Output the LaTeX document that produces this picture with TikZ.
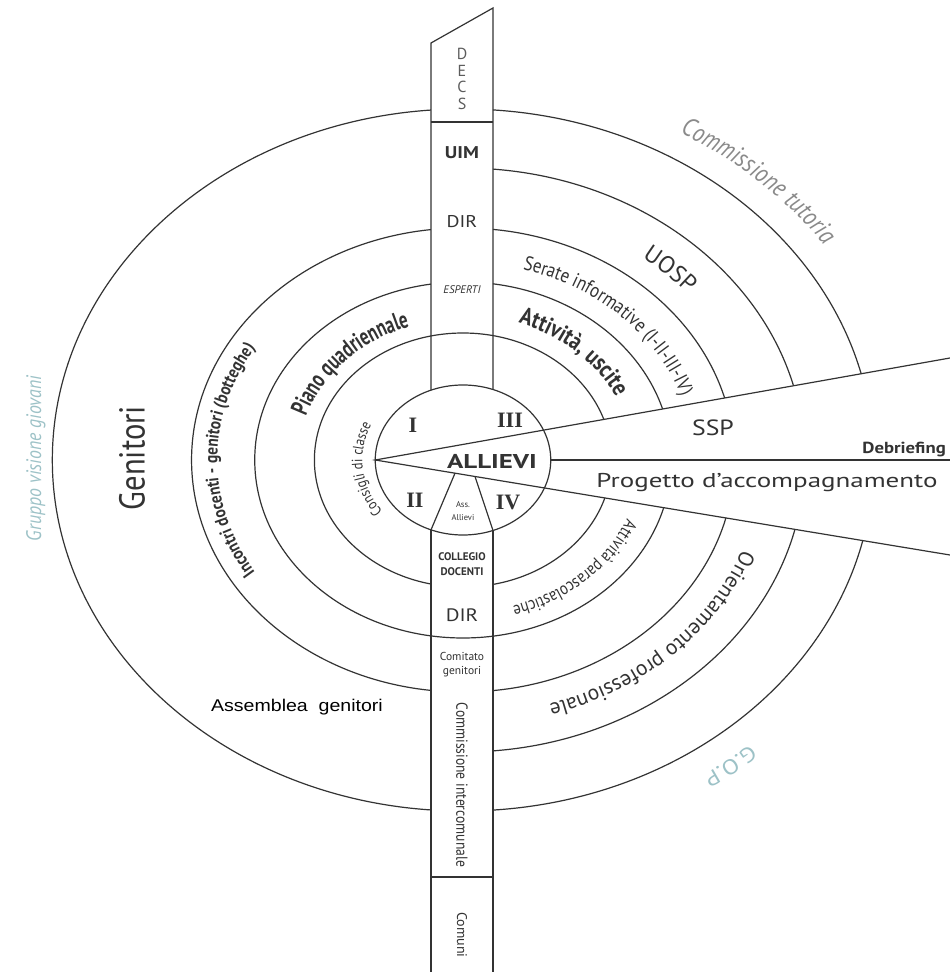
\documentclass[tikz,border=0pt]{standalone}
\usepackage{fontspec}
\setmainfont{PT Sans}
\newfontfamily\cnd[FakeStretch=0.85]{PT Sans}
\newfontfamily\xcnd[FakeStretch=0.7]{PT Sans}
\newfontfamily\wid[FakeStretch=1.17]{PT Sans}
\newfontfamily\xwid[FakeStretch=1.35]{PT Sans}
\newfontfamily\serf{Liberation Serif}
\newfontfamily\arialw[FakeStretch=1.15]{Liberation Sans}
\usetikzlibrary{decorations.text}
\definecolor{ink}{HTML}{333333}
\definecolor{grayt}{HTML}{8A8A8A}
\definecolor{paleblue}{HTML}{9DC2C7}
\newcommand\fsz[1]{\fontsize{#1}{#1}\selectfont}
\newcommand\arctext[5]{\path[decorate,decoration={text along path,text align=center,text={|#4|#5}}] ({1.17*#1*cos(#2)},{#1*sin(#2)}) arc[start angle=#2,end angle=#3,x radius={1.17*#1},y radius=#1];}
\begin{document}
\begin{tikzpicture}[x=1pt,y=1pt,
  ring/.style={draw=ink,line width=1.2pt},
  lbl/.style={text=ink,inner sep=0pt},
]
\useasboundingbox[fill=white] (-463,-512) rectangle (487,460);
% key coordinates
\coordinate (C) at (0,0);
\coordinate (apex) at (-87.75,0);
\coordinate (wU) at (487,102);
\coordinate (wL) at (487,-95);
\coordinate (cR) at (87.75,0);
\coordinate (dR) at (487,0);
\coordinate (sTL) at (-32,417);
\coordinate (sTR) at (30,452);
\coordinate (sUL) at (-32,69.9);
\coordinate (sUR) at (30,70.5);
\coordinate (sLL) at (-32,-69.9);
\coordinate (sLR) at (30,-70.5);
\coordinate (sBL) at (-32,-512);
\coordinate (sBR) at (30,-512);
\coordinate (dL1) at (-32,338);
\coordinate (dR1) at (30,338);
\coordinate (dL2) at (-32,-417);
\coordinate (dR2) at (30,-417);
\coordinate (tA) at (-8,-13.2);
\coordinate (tB) at (12,-16.5);
% left rings
\begin{scope}
\clip (-470,-520) rectangle (-32,470);
\foreach \r in {351,232,178,127} \draw[ring] (C) ellipse[x radius={1.17*\r},y radius=\r];
\end{scope}
% upper right rings
\begin{scope}
\clip (30,20.9) -- (600,122.1) -- (600,600) -- (30,600) -- cycle;
\foreach \r in {351,292,232,178,127} \draw[ring] (C) ellipse[x radius={1.17*\r},y radius=\r];
\end{scope}
% lower right rings
\begin{scope}
\clip (30,-19.5) -- (600,-113.7) -- (600,-600) -- (30,-600) -- cycle;
\foreach \r in {351,292,232,178,127} \draw[ring] (C) ellipse[x radius={1.17*\r},y radius=\r];
\end{scope}
% rings crossing the stripe
\begin{scope}
\clip (-32,0) rectangle (30,600);
\draw[ring] (C) ellipse[x radius={1.17*127},y radius=127];
\end{scope}
\begin{scope}
\clip (-32,-600) rectangle (30,0);
\draw[ring] (C) ellipse[x radius={1.17*178},y radius=178];
\end{scope}
% wedge and circle
\draw[ring] (wU) -- (apex) -- (wL);
\draw[ring] (cR) -- (dR);
\draw[ring] (C) ellipse[x radius=87.75,y radius=75];
% stripe
\draw[ring] (sUL) -- (sTL) -- (sTR) -- (sUR);
\draw[ring] (dL1) -- (dR1);
\draw[ring] (sLL) -- (sBL);
\draw[ring] (sLR) -- (sBR);
\draw[ring] (dL2) -- (dR2);
\draw[ring] (tA) -- (sLL);
\draw[ring] (tB) -- (sLR);
% circle labels
\node[lbl,font=\serf\bfseries\fsz{22}] (q1) at (-50,35) {I};
\node[lbl,font=\serf\bfseries\fsz{22}] (q3) at (47,40) {III};
\node[lbl,font=\serf\bfseries\fsz{22}] (q2) at (-48,-40) {II};
\node[lbl,font=\serf\bfseries\fsz{22}] (q4) at (45,-42) {IV};
\node[lbl,font=\xwid\bfseries\fsz{20}] (allievi) at (29,-2) {ALLIEVI};
\node[lbl,font=\fontsize{8.5}{12.5}\selectfont,align=center] (ass) at (0,-51) {Ass.\\Allievi};
% stripe labels
\node[lbl,text=ink!80,font=\fontsize{16}{16.5}\selectfont,align=center] (decs) at (-1,381) {D\\E\\C\\S};
\node[lbl,font=\wid\bfseries\fsz{17}] (uim) at (-1,307) {UIM};
\node[lbl,font=\wid\fsz{17}] (dir1) at (-1,238) {DIR};
\node[lbl,font=\itshape\fsz{11}] (esperti) at (-1,170) {ESPERTI};
\node[lbl,font=\bfseries\fontsize{11}{15}\selectfont,align=center] (coll) at (-1,-104) {COLLEGIO\\DOCENTI};
\node[lbl,font=\wid\fsz{18}] (dir2) at (-1,-155) {DIR};
\node[lbl,font=\fontsize{11.5}{14}\selectfont,align=center] (comit) at (-1,-205) {Comitato\\genitori};
\node[lbl,font=\cnd\fsz{16},rotate=-90] (cinter) at (-1,-325) {Commissione intercomunale};
\node[lbl,font=\fsz{14},rotate=-90] (comuni) at (-1,-475) {Comuni};
% left labels
\node[lbl,font=\cnd\fsz{36},rotate=90] (genitori) at (-331,2) {Genitori};
\node[lbl,text=paleblue,font=\cnd\itshape\fsz{21},rotate=90] (gvg) at (-427,1.5) {Gruppo visione giovani};
\node[lbl,text=black,font=\arialw\fsz{17}] (assem) at (-166,-247) {Assemblea~ genitori};
% wedge labels
\node[lbl,font=\wid\fsz{22}] (ssp) at (250,32) {SSP};
\node[lbl,font=\wid\bfseries\fsz{16},anchor=south east] (debr) at (483,3) {Debriefing};
\node[lbl,font=\xwid\fsz{20}] (prog) at (304,-23) {Progetto d’accompagnamento};
% curved labels
\arctext{210}{240}{120}{\color{ink}\cnd\bfseries\fsz{18}}{Incontri docenti - genitori (botteghe)}
\arctext{141}{184}{90}{\color{ink}\xcnd\bfseries\fsz{24.5}}{Piano quadriennale}
\arctext{86}{232}{140}{\color{ink}\cnd\fsz{15}}{Consigli di classe}
\arctext{376}{73}{21}{\color{grayt}\cnd\itshape\fsz{26}}{Commissione tutoria}
\arctext{254}{66}{27}{\color{ink}\fsz{24}}{UOSP}
\arctext{197}{86}{6}{\color{ink}\cnd\fsz{20}}{Serate informative (I-II-III-IV)}
\arctext{145}{82}{13}{\color{ink}\cnd\bfseries\fsz{24}}{Attività, uscite}
\arctext{152}{-10}{-85}{\color{ink}\cnd\fsz{17.5}}{Attività parascolastiche}
\arctext{255}{-6}{-86}{\color{ink}\fsz{21.5}}{Orientamento professionale}
\arctext{376}{-30}{-75}{\color{paleblue}\wid\fsz{21}}{G.O.P}
\end{tikzpicture}
\end{document}
